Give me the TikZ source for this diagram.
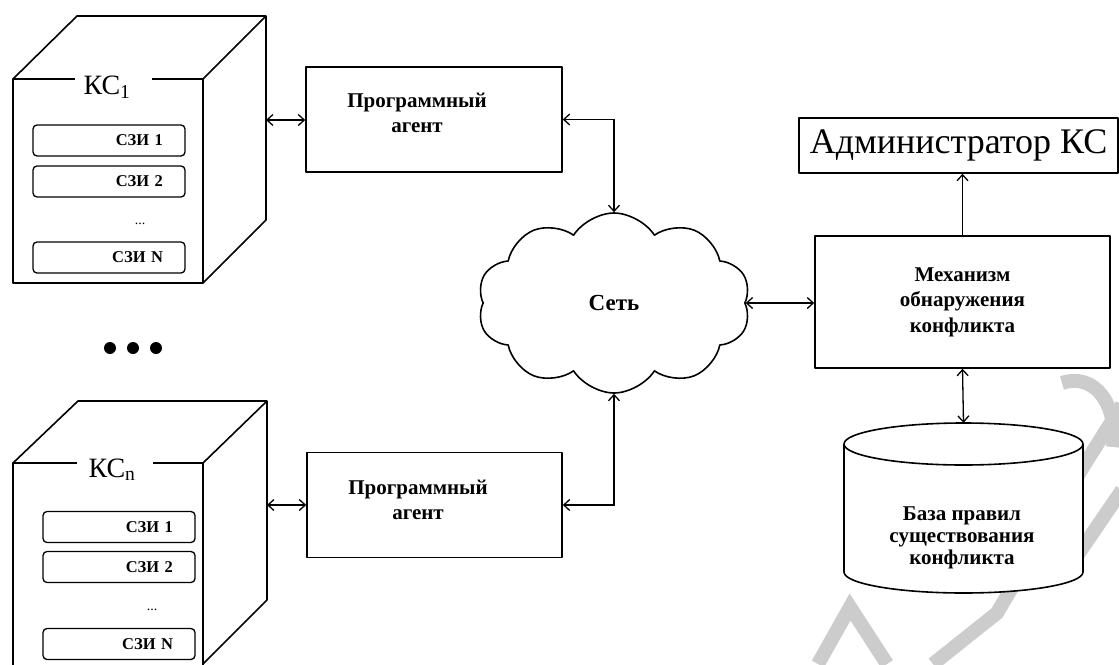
\documentclass[tikz,border=0pt]{standalone}
\usepackage{fontspec}
\setmainfont{Liberation Serif}
\usetikzlibrary{shapes.symbols,arrows.meta}

\tikzset{
	wire/.style={line width=1.6pt, line join=round},
	link/.style={line width=1.3pt, >={Straight Barb[length=6pt,width=11pt]}},
	box/.style={draw, wire, rectangle, inner sep=0pt},
	szi/.style={draw, line width=1.3pt, rounded corners=4pt, minimum height=31pt,
		inner xsep=22pt, text width=108pt, align=right,
		font=\fontsize{16.5}{18}\selectfont\bfseries},
	ks/.style={font=\fontsize{28}{30}\selectfont, anchor=base},
	txt/.style={font=\fontsize{21}{25.5}\selectfont\bfseries, align=center},
}

\begin{document}
\begin{tikzpicture}[x=1pt,y=-1pt]
	\useasboundingbox (0,0) rectangle (1119,664);
	\clip (0,0) rectangle (1119,664);

	% Watermark letters
	\begin{scope}[draw=black!20, line width=14pt]
		\draw (818,664) -- (850,607) -- (887,664);
		\draw (933,664) -- (997,613) -- (1083,467) -- (1122,405);
		\draw (1066,572) -- (1122,490);
		\draw (1062,383) .. controls (1095,372) and (1118,405) .. (1113,447);
	\end{scope}

	% Computer system 1
	\draw [wire] (75,79) -- (13,79) -- (13,283) -- (203,283) -- (203,79) -- (152,79);
	\draw [wire] (13,79) -- (77,16) -- (266,16) -- (203,79);
	\draw [wire] (266,16) -- (266,220) -- (203,283);
	\node [ks] (ks1lbl) at (107,94) {КС\textsubscript{1}};
	\node [szi] (s11) at (109,140.5) {СЗИ 1};
	\node [szi] (s12) at (109,181.5) {СЗИ 2};
	\node [txt, font=\fontsize{14}{16}\selectfont] (s1dots) at (140,224) {...};
	\node [szi] (s1n) at (109,257.5) {СЗИ N};
	\coordinate (ks1) at (266,120);

	% Computer system n
	\draw [wire] (77,463) -- (13,463) -- (13,670);
	\draw [wire] (203,670) -- (203,463) -- (153,463);
	\draw [wire] (13,463) -- (78,401) -- (267,401) -- (203,463);
	\draw [wire] (267,401) -- (267,600) -- (203,664);
	\node [ks] (ksnlbl) at (112,477) {КС\textsubscript{n}};
	\node [szi] (sn1) at (119,527) {СЗИ 1};
	\node [szi] (sn2) at (119,567) {СЗИ 2};
	\node [txt, font=\fontsize{14}{16}\selectfont] (sndots) at (152,610) {...};
	\node [szi] (snn) at (119,644) {СЗИ N};
	\coordinate (ksn) at (267,505);

	% the systems in between
	\foreach \x in {110,133,156}
		\fill (\x,348) circle (6);

	% Agents
	\node [box, minimum width=256pt, minimum height=105pt] (agent1) at (434,119.5) {};
	\node [txt] (agent1txt) at (417,113) {Программный\\агент};
	\node [box, minimum width=255pt, minimum height=105pt] (agent2) at (434.5,505) {};
	\node [txt] (agent2txt) at (418,500) {Программный\\агент};

	% Network
	\node [cloud, draw, wire, cloud puffs=10, cloud puff arc=115, aspect=1.5,
		minimum width=273pt, minimum height=180pt, txt,
		font=\fontsize{23}{25}\selectfont\bfseries] (net) at (614,303) {Сеть};

	% Administrator, detector and rule base
	\node [box, minimum width=319pt, minimum height=55pt,
		font=\fontsize{36}{40}\selectfont] (admin) at (958.5,145.5) {Администратор КС};
	\node [box, minimum width=295pt, minimum height=132pt, txt] (mech) at (962.5,302)
		{Механизм\\обнаружения\\конфликта};
	\node [minimum width=239pt, minimum height=170pt, inner sep=0pt] (rules) at (963.5,508) {};
	\draw [wire, fill=white] (844,444) -- (844,572)
		arc [start angle=180, end angle=0, x radius=119.5, y radius=21] -- (1083,444)
		arc [start angle=0, end angle=-180, x radius=119.5, y radius=21];
	\draw [wire] (844,444) arc [start angle=180, end angle=0, x radius=119.5, y radius=21];
	\node [txt, font=\fontsize{21}{22}\selectfont\bfseries] (rulestxt) at (962,538)
		{База правил\\существования\\конфликта};

	% Links
	\draw [link, <->] (ks1) -- (ks1 -| agent1.west);
	\draw [link, <->] (ksn) -- (ksn -| agent2.west);
	\draw [link, <->] (agent1.east) -| (net.north);
	\draw [link, <->] (agent2.east) -| (net.south);
	\draw [link, <->] (net.east) -- (net.east -| mech.west);
	\draw [link, ->] (mech.north) -- (mech.north |- admin.south);
	\draw [link, <->] (mech.south) -- (rules.north);
\end{tikzpicture}
\end{document}
